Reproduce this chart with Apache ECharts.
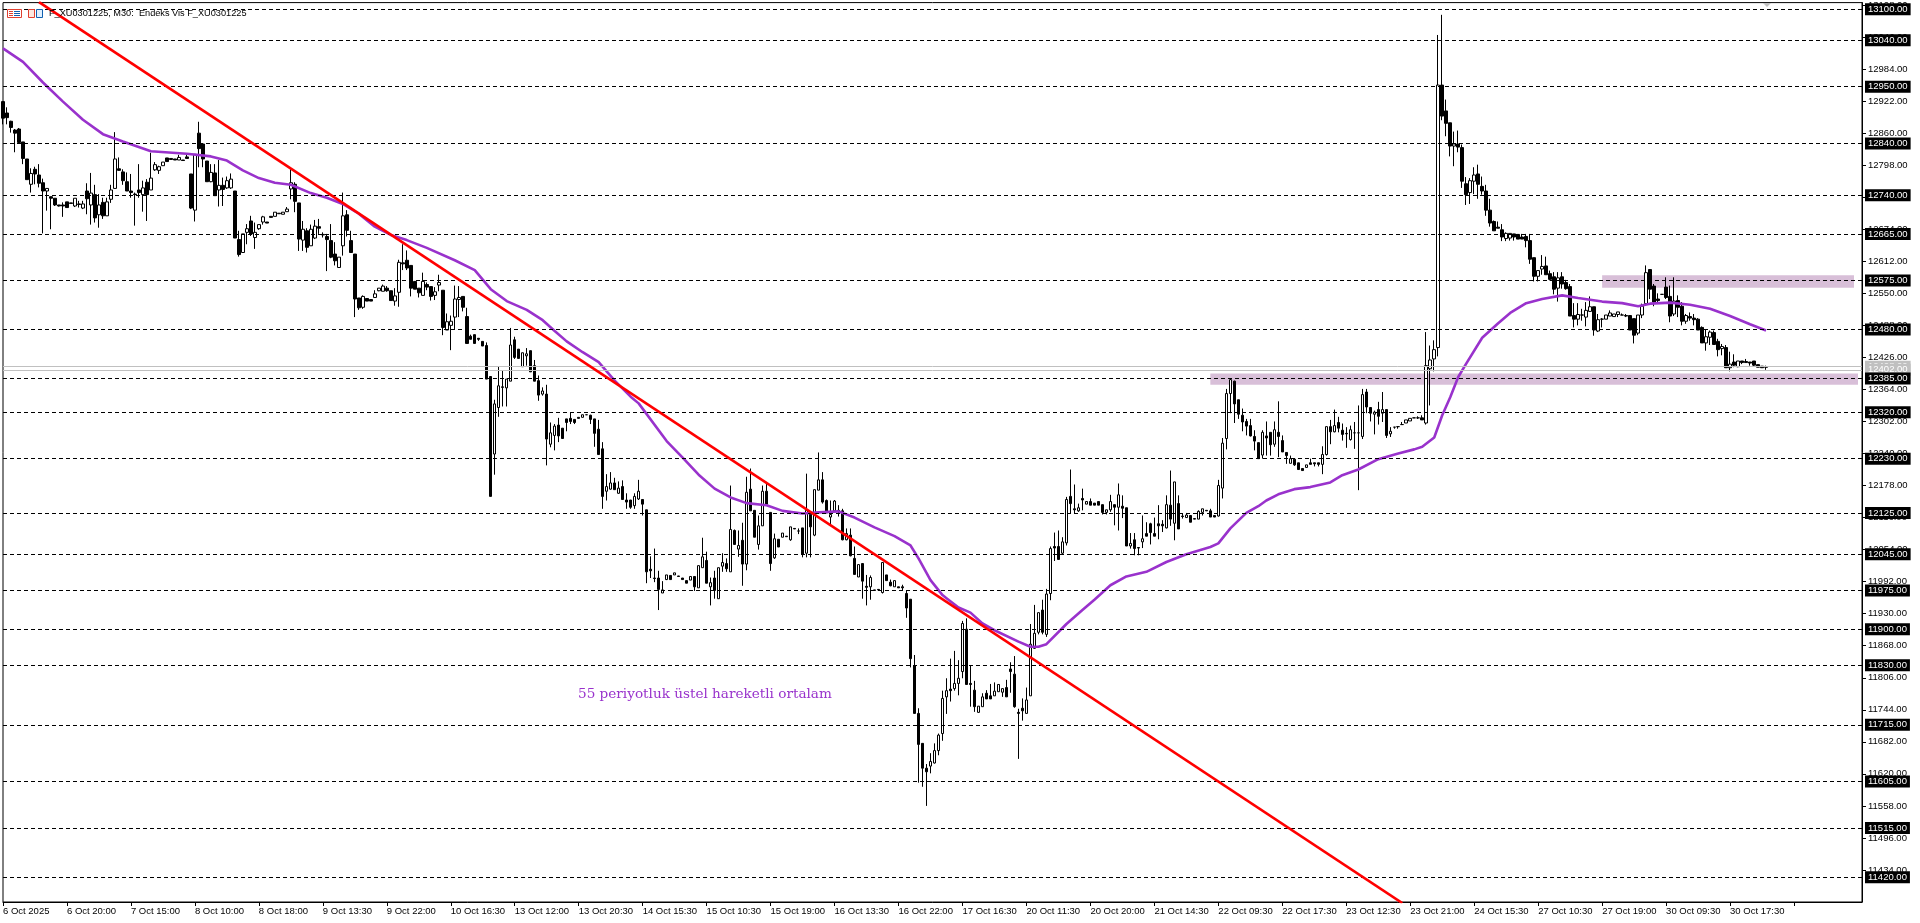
<!DOCTYPE html>
<html><head><meta charset="utf-8">
<style>html,body{margin:0;padding:0;background:#fff}#c{width:1920px;height:923px}</style>
<script src="https://cdn.jsdelivr.net/npm/echarts@6/dist/echarts.min.js"></script>
</head><body><div id="c"></div>
<script>
// [open, close, low, high], one row per 30-minute bar
const ohlc = [
[12921,12889,12877,12921],[12899,12890,12877,12910],[12883,12871,12861,12884],[12866,12860,12823,12868],[12868,12842,12840,12870],[12843,12811,12800,12843],[12810,12770,12770,12810],[12761,12782,12745,12792],[12790,12781,12761,12795],[12779,12763,12755,12800],
[12764,12748,12666,12772],[12748,12753,12710,12753],[12737,12734,12674,12737],[12734,12721,12719,12734],[12721,12719,12718,12721],[12721,12719,12698,12726],[12727,12716,12716,12727],[12725,12724,12724,12725],[12719,12734,12717,12734],[12723,12722,12716,12729],
[12715,12723,12713,12729],[12748,12733,12703,12763],[12721,12744,12683,12783],[12741,12696,12687,12760],[12702,12721,12677,12742],[12726,12700,12694,12735],[12700,12727,12700,12735],[12732,12750,12725,12760],[12753,12810,12753,12862],[12791,12788,12787,12813],
[12785,12768,12760,12790],[12766,12748,12748,12784],[12748,12745,12735,12781],[12742,12741,12681,12745],[12750,12745,12735,12800],[12741,12754,12708,12768],[12765,12741,12690,12771],[12750,12773,12750,12822],[12789,12799,12787,12804],[12788,12795,12781,12797],
[12797,12804,12797,12804],[12812,12805,12805,12812],[12811,12809,12809,12811],[12810,12808,12808,12810],[12808,12813,12808,12818],[12808,12807,12807,12808],[12814,12811,12811,12819],[12781,12715,12713,12781],[12711,12819,12689,12819],[12860,12830,12794,12882],
[12839,12810,12794,12839],[12806,12766,12766,12806],[12766,12784,12765,12800],[12783,12739,12739,12800],[12750,12759,12718,12808],[12759,12751,12719,12774],[12754,12768,12752,12776],[12754,12771,12752,12782],[12748,12657,12657,12748],[12654,12625,12621,12671],
[12629,12665,12629,12665],[12668,12675,12645,12684],[12690,12665,12661,12700],[12658,12668,12636,12687],[12675,12683,12673,12683],[12688,12698,12683,12700],[12688,12686,12686,12688],[12699,12697,12697,12699],[12699,12707,12699,12707],[12704,12705,12704,12705],
[12703,12707,12703,12707],[12708,12713,12708,12717],[12752,12764,12732,12790],[12761,12728,12707,12765],[12725,12655,12632,12725],[12653,12674,12632,12690],[12671,12639,12629,12676],[12642,12674,12642,12683],[12657,12680,12655,12692],[12679,12676,12665,12694],
[12664,12663,12658,12668],[12660,12654,12593,12665],[12652,12620,12618,12684],[12626,12613,12604,12649],[12600,12620,12600,12620],[12642,12700,12623,12745],[12702,12672,12660,12711],[12652,12629,12629,12671],[12626,12539,12504,12626],[12541,12522,12518,12541],
[12523,12544,12520,12546],[12540,12535,12535,12540],[12538,12535,12535,12538],[12542,12549,12542,12556],[12555,12560,12554,12560],[12554,12564,12554,12567],[12560,12555,12553,12564],[12555,12536,12536,12555],[12535,12545,12526,12560],[12552,12610,12524,12615],
[12609,12607,12595,12645],[12614,12599,12595,12633],[12604,12560,12544,12604],[12573,12558,12558,12573],[12560,12551,12542,12560],[12546,12573,12546,12590],[12567,12562,12556,12571],[12563,12544,12536,12563],[12546,12553,12537,12562],[12566,12571,12554,12586],
[12556,12484,12469,12556],[12479,12495,12479,12511],[12488,12496,12440,12507],[12504,12539,12481,12565],[12538,12542,12504,12564],[12544,12523,12515,12544],[12505,12453,12453,12522],[12467,12461,12461,12470],[12470,12453,12453,12470],[12463,12461,12458,12463],
[12457,12448,12448,12457],[12449,12384,12384,12455],[12389,12157,12157,12389],[12239,12336,12199,12344],[12329,12371,12311,12408],[12369,12368,12331,12400],[12367,12384,12331,12384],[12380,12450,12380,12483],[12460,12426,12423,12466],[12442,12424,12424,12442],
[12408,12435,12408,12435],[12429,12433,12410,12444],[12439,12398,12398,12439],[12410,12380,12380,12421],[12381,12353,12342,12391],[12355,12361,12352,12368],[12355,12268,12217,12373],[12258,12280,12252,12300],[12275,12293,12246,12297],[12295,12274,12262,12309],
[12289,12269,12269,12289],[12307,12300,12283,12307],[12308,12302,12297,12320],[12306,12300,12297,12306],[12310,12308,12308,12310],[12310,12315,12310,12315],[12315,12315,12315,12315],[12314,12306,12297,12315],[12307,12279,12253,12307],[12287,12238,12238,12305],
[12249,12157,12133,12262],[12167,12176,12149,12200],[12171,12183,12170,12204],[12183,12170,12170,12193],[12163,12173,12162,12186],[12176,12151,12151,12188],[12150,12146,12133,12163],[12150,12136,12133,12150],[12139,12157,12133,12163],[12152,12167,12150,12189],
[12151,12142,12120,12151],[12131,12011,11989,12131],[12016,12013,11999,12041],[11999,11998,11991,12056],[11999,11977,11937,12013],[11970,11976,11970,11993],[11996,12005,11995,12005],[12004,11996,11996,12004],[12005,12009,12005,12009],[12003,12002,12002,12003],
[11999,11996,11996,11999],[11994,11989,11989,11994],[11995,12002,11995,12002],[12002,11982,11974,12002],[11980,12023,11980,12023],[12019,12040,12019,12077],[12033,11989,11989,12050],[11982,11990,11946,12000],[11999,11975,11959,12013],[11959,12019,11959,12019],
[12022,12029,12011,12047],[12027,12017,12011,12037],[12011,12093,12011,12178],[12091,12064,12064,12093],[12055,12062,12040,12091],[12072,12026,11984,12106],[12026,12165,12014,12195],[12171,12129,12129,12211],[12130,12078,12078,12130],[12064,12100,12054,12120],
[12100,12167,12100,12178],[12167,12142,12142,12185],[12126,12027,12013,12126],[12038,12075,12036,12085],[12074,12059,12059,12074],[12078,12086,12078,12086],[12080,12079,12079,12080],[12073,12098,12071,12098],[12095,12094,12094,12095],[12090,12090,12084,12095],
[12096,12045,12039,12096],[12047,12130,12039,12201],[12125,12098,12039,12127],[12082,12170,12080,12170],[12169,12189,12169,12242],[12189,12146,12143,12204],[12149,12125,12125,12151],[12117,12122,12101,12149],[12129,12148,12127,12150],[12130,12129,12118,12140],
[12129,12073,12072,12133],[12073,12085,12072,12095],[12082,12042,12041,12095],[12037,12006,12006,12060],[12001,12025,12001,12025],[12027,11993,11959,12028],[11983,11981,11946,12005],[11982,12000,11957,12004],[11976,11975,11975,11976],[11977,11976,11976,11977],
[11971,12029,11969,12029],[12005,11994,11994,12005],[11991,11984,11983,11996],[11982,11994,11982,11994],[11982,11980,11980,11982],[11982,11980,11975,11986],[11969,11941,11922,11974],[11958,11843,11826,11958],[11829,11737,11737,11850],[11737,11677,11603,11747],
[11679,11631,11595,11679],[11631,11624,11558,11639],[11635,11644,11621,11660],[11641,11665,11640,11679],[11665,11695,11656,11698],[11698,11766,11684,11781],[11769,11781,11736,11805],[11784,11781,11760,11843],[11785,11795,11781,11858],[11795,11805,11772,11840],
[11818,11911,11805,11916],[11900,11793,11793,11921],[11795,11793,11750,11830],[11782,11750,11740,11800],[11739,11751,11738,11751],[11750,11769,11750,11776],[11776,11765,11765,11782],[11771,11765,11765,11794],[11771,11780,11771,11797],[11779,11793,11779,11793],
[11778,11785,11769,11785],[11787,11769,11769,11802],[11823,11818,11777,11836],[11813,11750,11748,11848],[11739,11737,11649,11746],[11747,11742,11723,11766],[11737,11763,11737,11787],[11771,11871,11771,11910],[11863,11892,11862,11947],[11894,11932,11890,11932],
[11937,11894,11890,11957],[11890,11968,11885,11978],[11969,12056,11956,12060],[12060,12057,12032,12087],[12060,12035,12035,12091],[12047,12069,12045,12078],[12067,12151,12062,12156],[12157,12143,12124,12209],[12133,12131,12124,12180],[12129,12135,12127,12143],
[12153,12150,12130,12172],[12142,12147,12142,12147],[12147,12140,12140,12153],[12144,12140,12140,12144],[12147,12140,12140,12147],[12141,12126,12122,12141],[12126,12131,12122,12131],[12131,12147,12127,12160],[12141,12136,12101,12141],[12136,12160,12091,12182],
[12138,12134,12115,12159],[12135,12061,12061,12135],[12061,12066,12056,12086],[12073,12056,12043,12086],[12058,12057,12043,12058],[12069,12075,12057,12120],[12085,12080,12080,12107],[12104,12087,12064,12106],[12085,12080,12080,12116],[12104,12100,12074,12140],
[12103,12100,12088,12111],[12096,12141,12095,12159],[12140,12113,12100,12207],[12105,12185,12072,12185],[12143,12094,12094,12159],[12119,12118,12114,12124],[12116,12121,12116,12125],[12120,12107,12107,12120],[12114,12113,12113,12114],[12113,12128,12113,12130],
[12126,12133,12120,12133],[12130,12129,12129,12130],[12129,12117,12117,12133],[12120,12117,12117,12120],[12119,12178,12118,12189],[12173,12260,12153,12270],[12269,12356,12248,12365],[12356,12383,12318,12385],[12380,12336,12299,12381],[12344,12316,12307,12344],
[12314,12301,12283,12327],[12302,12293,12275,12307],[12294,12274,12273,12307],[12273,12264,12246,12285],[12261,12230,12230,12261],[12237,12281,12230,12285],[12274,12270,12236,12302],[12281,12257,12236,12281],[12258,12286,12253,12302],[12281,12273,12233,12341],
[12265,12243,12243,12275],[12242,12236,12220,12242],[12221,12230,12221,12236],[12229,12218,12216,12229],[12222,12209,12209,12222],[12211,12207,12207,12211],[12213,12218,12213,12218],[12222,12219,12219,12230],[12222,12220,12215,12222],[12222,12219,12215,12222],
[12219,12238,12200,12254],[12238,12292,12236,12292],[12292,12282,12258,12305],[12282,12294,12281,12325],[12300,12289,12281,12311],[12285,12277,12265,12298],[12279,12278,12251,12291],[12267,12286,12265,12294],[12280,12280,12249,12301],[12280,12280,12169,12333],
[12273,12354,12268,12365],[12359,12330,12318,12365],[12329,12318,12302,12329],[12316,12320,12277,12323],[12325,12312,12296,12340],[12318,12325,12301,12359],[12325,12275,12270,12325],[12278,12283,12272,12291],[12291,12291,12288,12291],[12292,12292,12288,12292],
[12296,12296,12296,12301],[12299,12305,12299,12305],[12303,12308,12303,12308],[12309,12309,12309,12309],[12309,12309,12307,12312],[12309,12305,12305,12314],[12299,12410,12296,12475],[12404,12421,12333,12449],[12423,12441,12399,12459],[12445,12953,12428,13050],
[12953,12893,12885,13089],[12903,12879,12854,12925],[12880,12835,12815,12880],[12835,12839,12796,12863],[12839,12833,12823,12865],[12832,12767,12754,12838],[12762,12741,12721,12775],[12745,12768,12723,12773],[12767,12779,12742,12794],[12781,12761,12733,12799],
[12757,12748,12741,12776],[12748,12711,12700,12760],[12711,12686,12679,12733],[12689,12671,12671,12691],[12678,12676,12676,12689],[12673,12659,12651,12684],[12656,12666,12651,12668],[12657,12666,12652,12666],[12665,12659,12652,12665],[12664,12655,12655,12664],
[12659,12655,12655,12665],[12660,12652,12639,12665],[12652,12616,12607,12665],[12619,12583,12573,12619],[12583,12594,12573,12594],[12597,12602,12586,12624],[12603,12586,12586,12621],[12588,12577,12575,12594],[12582,12558,12548,12591],[12560,12580,12534,12591],
[12582,12568,12559,12591],[12571,12559,12557,12576],[12563,12506,12506,12568],[12507,12500,12484,12531],[12500,12509,12488,12531],[12508,12508,12497,12520],[12504,12517,12486,12533],[12515,12524,12514,12544],[12524,12479,12468,12524],[12477,12499,12475,12510],
[12500,12500,12484,12502],[12500,12508,12500,12508],[12506,12512,12506,12517],[12505,12510,12505,12510],[12509,12514,12504,12514],[12508,12508,12508,12511],[12507,12506,12504,12510],[12507,12479,12479,12507],[12501,12469,12453,12501],[12473,12508,12469,12508],
[12508,12525,12502,12530],[12530,12590,12528,12604],[12596,12558,12539,12597],[12564,12533,12525,12568],[12539,12536,12531,12550],[12548,12548,12548,12548],[12562,12542,12539,12581],[12544,12506,12494,12565],[12510,12535,12506,12581],[12536,12523,12504,12546],
[12525,12496,12488,12533],[12496,12507,12491,12510],[12505,12502,12497,12513],[12502,12499,12488,12510],[12500,12479,12479,12502],[12484,12454,12454,12486],[12454,12466,12439,12479],[12465,12475,12450,12478],[12474,12451,12451,12478],[12457,12441,12428,12462],
[12443,12447,12430,12452],[12445,12406,12406,12450],[12406,12413,12399,12437],[12417,12411,12407,12432],[12408,12419,12407,12419],[12419,12416,12413,12419],[12418,12416,12416,12423],[12417,12415,12410,12417],[12419,12411,12408,12419],[12412,12407,12407,12412],
[12409,12406,12406,12409],[12408,12407,12402,12410]
];
// 55-period EMA: bar number and value
const emaBars = [0,5,10,15,20,25,30,37,46,52,56,60,64,68,72,77,81,85,89,93,97,101,106,113,118,122,126,131,135,138,141,145,149,153,157,159,166,170,174,178,182,186,191,195,200,204,209,213,218,223,227,229,232,235,236,239,242,245,248,254,257,259,261,266,270,273,277,281,286,291,296,302,304,307,311,314,316,319,323,327,332,335,339,344,349,353,355,358,360,362,364,366,370,374,377,381,385,390,394,400,405,409,412,417,422,427,432,437,441];
const emaValues = [13024,12998,12958,12921,12886,12858,12844,12825,12820,12815,12807,12788,12773,12764,12760,12744,12735,12723,12704,12679,12663,12653,12638,12614,12595,12558,12535,12518,12498,12477,12457,12436,12417,12381,12350,12337,12264,12232,12199,12172,12155,12144,12140,12129,12124,12126,12128,12116,12097,12080,12062,12037,11995,11966,11960,11942,11932,11911,11898,11876,11866,11866,11871,11910,11937,11957,11985,12002,12011,12030,12045,12059,12066,12095,12125,12138,12149,12161,12171,12175,12184,12198,12209,12229,12240,12248,12253,12271,12314,12349,12388,12414,12464,12492,12512,12531,12539,12546,12541,12534,12531,12525,12530,12532,12528,12520,12506,12490,12478];
const trendBars = [9,350];
const trendValues = [13113.7,11370];
const levels = [13100,13040,12950,12840,12740,12665,12575,12480,12385,12320,12230,12125,12045,11975,11900,11830,11715,11605,11515,11420];
const priceLines = [12408,12402];
const yTicks = [13108,13046,12984,12922,12860,12798,12736,12674,12612,12550,12488,12426,12364,12302,12240,12178,12116,12054,11992,11930,11868,11806,11744,11682,11620,11558,11496,11434];
const dateTicks = ["6 Oct 2025","6 Oct 20:00","7 Oct 15:00","8 Oct 10:00","8 Oct 18:00","9 Oct 13:30","9 Oct 22:00","10 Oct 16:30","13 Oct 12:00","13 Oct 20:30","14 Oct 15:30","15 Oct 10:30","15 Oct 19:00","16 Oct 13:30","16 Oct 22:00","17 Oct 16:30","20 Oct 11:30","20 Oct 20:00","21 Oct 14:30","22 Oct 09:30","22 Oct 17:30","23 Oct 12:30","23 Oct 21:00","24 Oct 15:30","27 Oct 10:30","27 Oct 19:00","30 Oct 09:30","30 Oct 17:30"];
// zones: first bar, last bar, top price, bottom price
const zoneBars = [[302,464],[400,463]];
const zoneValues = [[12395,12373],[12585,12561]];
const chartTitle = "F_XU0301225, M30:  Endeks Vis F_XU0301225";
const note = "55 periyotluk üstel hareketli ortalam";

const BAR_SLOTS = 466, TICK_EVERY = 16;
const categories = Array.from({length:BAR_SLOTS},(_,i)=> i%TICK_EVERY===0 ? (dateTicks[i/TICK_EVERY]||'') : '');
const FONT = '"Liberation Sans", Arial, sans-serif';
const PURPLE = '#9932cc';
const chart = echarts.init(document.getElementById('c'),null,{renderer:'canvas'});
chart.setOption({
  animation:false,
  backgroundColor:'#fff',
  grid:{left:2,right:58,top:2,bottom:21,show:true,borderColor:'#000',borderWidth:1,backgroundColor:'#fff'},
  xAxis:{type:'category',data:categories,boundaryGap:false,
    axisLine:{lineStyle:{color:'#000',width:1}},
    axisTick:{show:true,interval:TICK_EVERY-1,length:4,lineStyle:{color:'#000'}},
    axisLabel:{interval:TICK_EVERY-1,align:'left',color:'#000',fontFamily:FONT,fontSize:9.5,margin:4,hideOverlap:false,showMaxLabel:false},
    splitLine:{show:false}},
  yAxis:{type:'value',position:'right',min:11372,max:13112.6,scale:true,
    axisLine:{show:true,lineStyle:{color:'#000',width:1}},
    axisTick:{show:true,length:4,customValues:yTicks,lineStyle:{color:'#000'}},
    axisLabel:{customValues:yTicks,color:'#000',fontFamily:FONT,fontSize:9.5,margin:6,hideOverlap:false,
      formatter:v=>Number(v).toFixed(2)},
    splitLine:{show:false}},
  series:[
    {name:'zones',type:'line',data:[],z:1,silent:true,
      markArea:{silent:true,itemStyle:{color:'#d8bfd8'},
        data:zoneBars.map((b,k)=>[{xAxis:b[0],yAxis:zoneValues[k][0]},{xAxis:b[1],yAxis:zoneValues[k][1]}])}},
    {name:'price',type:'line',data:[],z:2,silent:true,
      markLine:{silent:true,symbol:'none',animation:false,
        lineStyle:{color:'#c0c0c0',type:'solid',width:1},
        label:{position:'end',distance:3,color:'#fff',backgroundColor:'#c0c0c0',padding:[1,3],fontFamily:FONT,fontSize:9.5,
          formatter:p=>p.value.toFixed(2)},
        data:priceLines.map(v=>({yAxis:v}))}},
    {name:'levels',type:'line',data:[],z:2,silent:true,
      markLine:{silent:true,symbol:'none',animation:false,
        lineStyle:{color:'#000',type:[4,3],width:1},
        label:{position:'end',distance:3,color:'#fff',backgroundColor:'#000',padding:[1,3],fontFamily:FONT,fontSize:9.5,
          formatter:p=>p.value.toFixed(2)},
        data:levels.map(v=>({yAxis:v}))}},
    {name:'candles',type:'candlestick',z:3,barWidth:3,silent:true,
      itemStyle:{color:'#fff',color0:'#000',borderColor:'#000',borderColor0:'#000',borderWidth:1},
      data:ohlc.map(([o,c,l,h])=>[o,c,Math.min(l,o,c),Math.max(h,o,c)])},
    {name:'ema',type:'line',z:4,silent:true,showSymbol:false,symbol:'none',
      lineStyle:{color:PURPLE,width:2.6},
      data:emaBars.map((b,k)=>[b,emaValues[k]])},
    {name:'trend',type:'line',z:5,silent:true,showSymbol:false,symbol:'none',
      lineStyle:{color:'#ff0000',width:2.6},
      data:trendBars.map((b,k)=>[b,trendValues[k]])}
  ],
  graphic:[
    {type:'text',left:49,top:9,z:10,style:{text:chartTitle,fill:'#000',font:'9.2px '+FONT}},
    {type:'text',left:578,top:687,z:10,style:{text:note,fill:PURPLE,font:'13.6px "DejaVu Serif", serif'}},
    {type:'rect',z:10,shape:{x:7.5,y:9.5,width:14,height:8},style:{fill:'#fff',stroke:'#e04030',lineWidth:1}},
    {type:'line',z:10,shape:{x1:14,y1:11.5,x2:20,y2:11.5},style:{stroke:'#1060b0'}},
    {type:'line',z:10,shape:{x1:14,y1:13.5,x2:20,y2:13.5},style:{stroke:'#1060b0'}},
    {type:'line',z:10,shape:{x1:14,y1:15.5,x2:20,y2:15.5},style:{stroke:'#1060b0'}},
    {type:'line',z:10,shape:{x1:9,y1:11.5,x2:13,y2:11.5},style:{stroke:'#e04030'}},
    {type:'line',z:10,shape:{x1:9,y1:13.5,x2:13,y2:13.5},style:{stroke:'#e04030'}},
    {type:'line',z:10,shape:{x1:9,y1:15.5,x2:13,y2:15.5},style:{stroke:'#e04030'}},
    {type:'rect',z:10,shape:{x:28.5,y:9.5,width:6,height:8},style:{fill:'#fde8e0',stroke:'#e04030'}},
    {type:'rect',z:10,shape:{x:36.5,y:9.5,width:6,height:8},style:{fill:'#e0f0ff',stroke:'#1060b0'}},
    {type:'polygon',z:10,shape:{points:[[1763,3],[1771,3],[1767,7]]},style:{fill:'#c0c0c0'}}
  ]
});
</script></body></html>
